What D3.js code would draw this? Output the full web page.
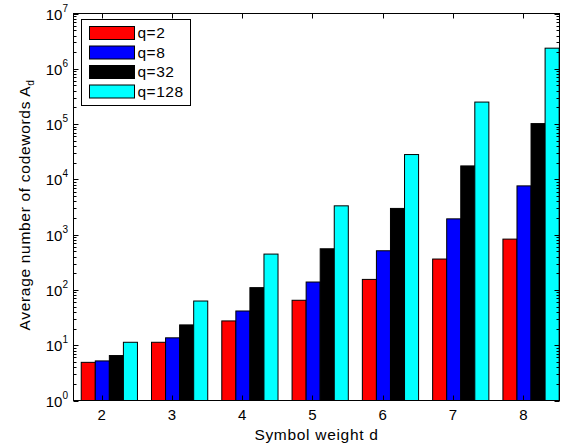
<!DOCTYPE html>
<html>
<head>
<meta charset="utf-8">
<script src="https://cdn.jsdelivr.net/npm/d3@7"></script>
<style>
  body { margin: 0; background: #fff; }
  svg { display: block; font-family: "Liberation Sans", Arial, Helvetica, sans-serif; }
</style>
</head>
<body>
<svg id="chart" width="570" height="448"></svg>
<script>
let weights = [2, 3, 4, 5, 6, 7, 8]
let seriesNames = ["q=2", "q=8", "q=32", "q=128"]
let seriesColors = ["#ff0000", "#0000ff", "#000000", "#00ffff"]

// one value per symbol weight
let q2 = [4.9, 11.3, 27.5, 65, 155, 362, 830]
let q8 = [5.2, 13.6, 41.6, 139, 511, 1930, 7620]
let q32 = [6.5, 23.3, 110, 555, 2980, 17500, 102000]
let q128 = [11.3, 63, 445, 3320, 28100, 250000, 2360000]
let seriesValues = [q2, q8, q32, q128]

let yTickExps = [0, 1, 2, 3, 4, 5, 6, 7]

let svg = d3.select('#chart')

let axLeft = 73.5, axRight = 559.5, axTop = 13.5, axBottom = 400.5

let x = d3.scaleLinear()
    .domain([1.6, 8.515])
    .range([axLeft, axRight])

let y = d3.scaleLog()
    .domain([1, 1e7])
    .range([axBottom, axTop])

let barW = x(0.2) - x(0)

// bars
seriesValues.forEach((vals, i) => {
    svg.append('g')
        .selectAll('rect')
        .data(weights)
        .enter()
        .append('rect')
        .attr('x', (d) => x(d - 0.29 + 0.2 * i))
        .attr('width', barW)
        .attr('y', (d, j) => y(vals[j]))
        .attr('height', (d, j) => axBottom - y(vals[j]))
        .attr('fill', seriesColors[i])
        .attr('stroke', '#000')
        .attr('stroke-width', 1)
})

// axes box
svg.append('rect')
    .attr('x', axLeft)
    .attr('y', axTop)
    .attr('width', axRight - axLeft)
    .attr('height', axBottom - axTop)
    .attr('fill', 'none')
    .attr('stroke', '#000')
    .attr('stroke-width', 1)

let ticks = svg.append('g').attr('stroke', '#000').attr('stroke-width', 1)

// x ticks top and bottom, pointing inwards
weights.forEach(d => {
    let px = Math.round(x(d)) + 0.5
    ticks.append('line').attr('x1', px).attr('x2', px).attr('y1', axTop).attr('y2', axTop + 5)
    ticks.append('line').attr('x1', px).attr('x2', px).attr('y1', axBottom).attr('y2', axBottom - 5)
})

// y ticks, major and minor, on both sides
yTickExps.forEach(e => {
    let py = Math.round(y(Math.pow(10, e))) + 0.5
    ticks.append('line').attr('x1', axLeft).attr('x2', axLeft + 5).attr('y1', py).attr('y2', py)
    ticks.append('line').attr('x1', axRight).attr('x2', axRight - 5).attr('y1', py).attr('y2', py)
    if (e < 7) {
        for (let m = 2; m <= 9; m++) {
            let my = Math.round(y(m * Math.pow(10, e))) + 0.5
            ticks.append('line').attr('x1', axLeft).attr('x2', axLeft + 3).attr('y1', my).attr('y2', my)
            ticks.append('line').attr('x1', axRight).attr('x2', axRight - 3).attr('y1', my).attr('y2', my)
        }
    }
})

// x tick labels
svg.append('g')
    .selectAll('text')
    .data(weights)
    .enter()
    .append('text')
    .attr('x', d => x(d))
    .attr('y', 420)
    .attr('text-anchor', 'middle')
    .attr('font-size', '15px')
    .text(d => d)

// y tick labels 10^e
yTickExps.forEach(e => {
    let t = svg.append('text')
        .attr('x', 68)
        .attr('y', y(Math.pow(10, e)) + 6)
        .attr('text-anchor', 'end')
        .attr('font-size', '15px')
    t.append('tspan').text('10')
    t.append('tspan').attr('dy', -8).attr('font-size', '10px').text(e)
})

// axis titles
svg.append('text')
    .attr('x', (axLeft + axRight) / 2)
    .attr('y', 440)
    .attr('text-anchor', 'middle')
    .attr('font-size', '15.5px')
    .attr('letter-spacing', '0.7px')
    .text('Symbol weight d')

let yl = svg.append('text')
    .attr('transform', 'translate(30,205) rotate(-90)')
    .attr('text-anchor', 'middle')
    .attr('font-size', '15.5px')
    .attr('letter-spacing', '0.7px')
yl.append('tspan').text('Average number of codewords A')
yl.append('tspan').attr('dy', 4).attr('font-size', '10px').text('d')

// legend
let legend = svg.append('g')
legend.append('rect')
    .attr('x', 81.5)
    .attr('y', 19.5)
    .attr('width', 109)
    .attr('height', 86)
    .attr('fill', '#fff')
    .attr('stroke', '#000')
    .attr('stroke-width', 1)

seriesNames.forEach((name, i) => {
    let ry = 26.5 + i * 19.5
    legend.append('rect')
        .attr('x', 89.5)
        .attr('y', ry)
        .attr('width', 45)
        .attr('height', 13)
        .attr('fill', seriesColors[i])
        .attr('stroke', '#000')
        .attr('stroke-width', 1)
    legend.append('text')
        .attr('x', 137.5)
        .attr('y', ry + 11.5)
        .attr('font-size', '15.5px')
        .attr('letter-spacing', '0.5px')
        .text(name)
})
</script>
</body>
</html>
